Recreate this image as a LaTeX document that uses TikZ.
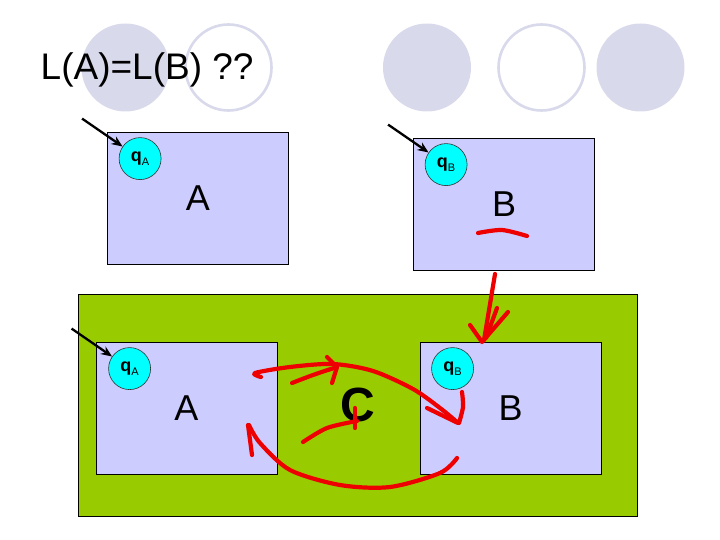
\documentclass[tikz,border=0pt]{standalone}
\usepackage{fontspec}
\setmainfont{Liberation Sans}
\usetikzlibrary{arrows.meta,positioning}
\definecolor{boxlav}{HTML}{CCCCFF}
\definecolor{decolav}{HTML}{D9D9EC}
\definecolor{prodgreen}{HTML}{99CC00}
\definecolor{startcyan}{HTML}{00FFFF}
\definecolor{penred}{HTML}{EE0000}
\tikzset{
  autbox/.style  ={draw=black,line width=0.8pt,fill=boxlav,minimum width=181pt,
                   minimum height=132pt,inner sep=0pt,font=\fontsize{36}{36}\selectfont},
  prodbox/.style ={draw=black,line width=0.8pt,fill=prodgreen,minimum width=559pt,
                   minimum height=222pt,inner sep=0pt,font=\fontsize{48}{48}\selectfont\bfseries},
  startst/.style ={circle,draw=black!80,line width=0.6pt,fill=startcyan,minimum size=42pt,
                   inner sep=0pt,font=\fontsize{18}{18}\selectfont},
  initarr/.style ={-{Stealth[length=11pt,width=9pt]},draw=black,line width=2.3pt},
  pen/.style     ={draw=penred,line width=4.2pt,line cap=round,line join=round},
  decodot/.style ={fill=decolav},
  decoring/.style={draw=decolav,line width=2.6pt,fill=white},
}
\newcommand{\qsub}[1]{\textbf{q}\raisebox{-3.5pt}{\fontsize{11}{11}\selectfont #1}}

\begin{document}
\begin{tikzpicture}[x=1pt,y=-1pt]
\useasboundingbox (0,0) rectangle (720,540);

% Decoration circles
\fill[decodot]  (125.5,67.5) circle (44);
\draw[decoring] (228.5,67.5) circle (43);
\fill[decodot]  (427,67.5)   circle (44);
\draw[decoring] (541.5,67.5) circle (43);
\fill[decodot]  (640.5,67.5) circle (44);

% Title
\node[anchor=base west,inner sep=0pt,font=\fontsize{37}{37}\selectfont] (title) at (40.5,80) {L(A)=L(B) ??};

% Automata A and B
\node[autbox] (A1) at (198,198) {A};
\node[autbox] (B1) at (504,204) {B};

% Product automaton C
\node[prodbox] (C) at (357.5,405) {C};
\node[autbox] (A2) at (186.5,408) {A};
\node[autbox] (B2) at (510.5,408) {B};

% Start states
\node[startst,xshift=33pt,yshift=-27pt] (qA1) at (A1.north west) {\qsub{A}};
\node[startst,xshift=33pt,yshift=-27pt] (qB1) at (B1.north west) {\qsub{B}};
\node[startst,xshift=34pt,yshift=-27pt] (qA2) at (A2.north west) {\qsub{A}};
\node[startst,xshift=33pt,yshift=-27pt] (qB2) at (B2.north west) {\qsub{B}};

\coordinate (inA1) at ([shift={(-58,-40)}]qA1.center);
\coordinate (inB1) at ([shift={(-58,-40)}]qB1.center);
\coordinate (inA2) at ([shift={(-58,-40)}]qA2.center);

\draw[initarr] (inA1) -- (qA1);
\draw[initarr] (inB1) -- (qB1);
\draw[initarr] (inA2) -- (qA2);

% Red pen marks
\draw[pen] plot[smooth] coordinates {(478,233) (502,230) (527,236)};
\draw[pen] (495,274) -- (484,340);
\draw[pen] (470,325) -- (482,342) -- (508,312);
\draw[pen] (497,308) -- (486,338);

\draw[pen] plot[smooth] coordinates {(261,377) (255,373) (290,367) (333,364) (373,371) (413,389) (440,408) (457,422)};
\draw[pen] (427,408) -- (458,423);
\draw[pen] plot[smooth] coordinates {(462,392) (463,407) (459,423)};

\draw[pen] plot[smooth] coordinates {(292,383) (313,375) (337,367)};
\draw[pen] (327,357) -- (337,367) -- (332,383);

\draw[pen] plot[smooth] coordinates {(303,442) (327,428) (357,421)};
\draw[pen] (355,408) -- (355,428);

\draw[pen] plot[smooth] coordinates {(457,458) (440,473) (390,487) (340,485) (290,470) (260,443) (249,425)};
\draw[pen] (252,455) -- (248,425);

\end{tikzpicture}
\end{document}
